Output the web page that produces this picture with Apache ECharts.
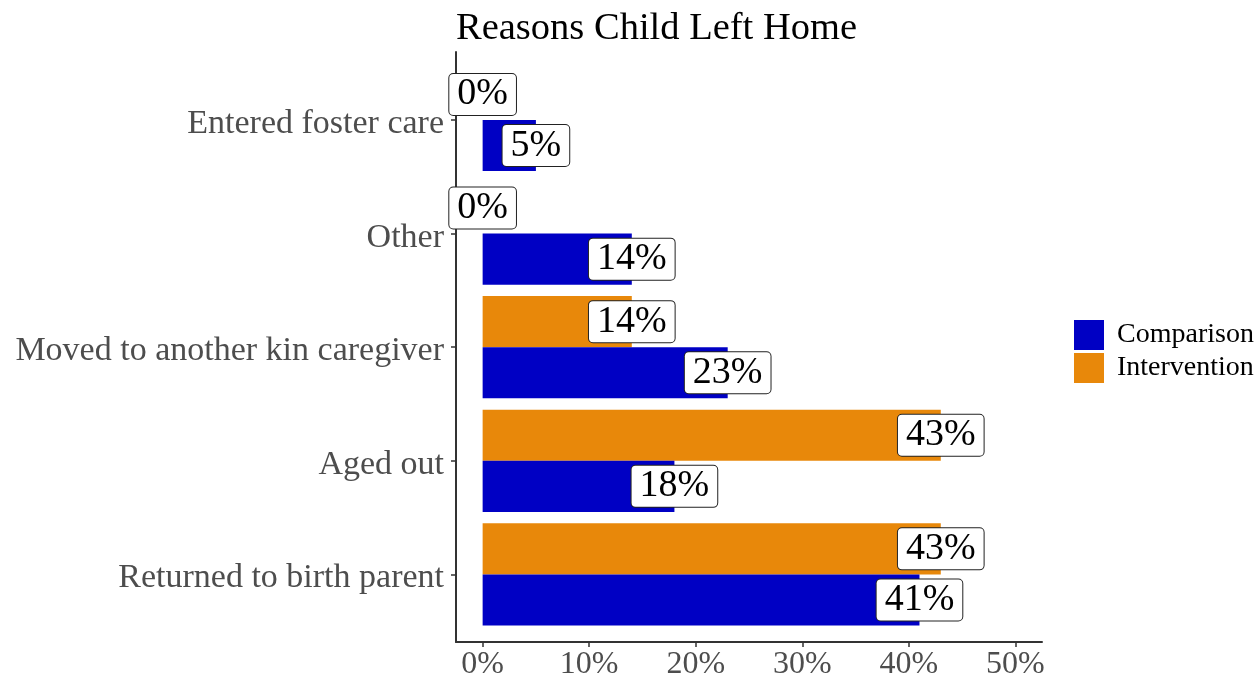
<!DOCTYPE html>
<html>
<head>
<meta charset="utf-8">
<script src="https://cdn.jsdelivr.net/npm/echarts@6/dist/echarts.min.js"></script>
<style>html,body{margin:0;padding:0;background:#fff}#c{width:1260px;height:681px}</style>
</head>
<body>
<div id="c"></div>
<script>
// categories listed bottom-to-top (as drawn on the y axis)
const categories = ['Returned to birth parent', 'Aged out', 'Moved to another kin caregiver', 'Other', 'Entered foster care'];
const intervention = [43, 43, 14, 0, 0];
const comparison = [41, 18, 23, 14, 5];
const xTicks = [0, 10, 20, 30, 40, 50];

const FONT = 'Liberation Serif';
const chart = echarts.init(document.getElementById('c'));

const labelStyle = {
  show: true,
  position: 'right',
  distance: 0,
  align: 'center',
  verticalAlign: 'middle',
  formatter: p => p.value + '%',
  fontFamily: FONT,
  fontSize: 38,
  color: '#000',
  backgroundColor: '#fff',
  borderColor: '#222',
  borderWidth: 1,
  borderRadius: 4,
  padding: [3, 8, 2, 8],
  lineHeight: 36
};

chart.setOption({
  animation: false,
  title: {
    text: 'Reasons Child Left Home',
    left: 451,
    top: 4,
    textStyle: { fontFamily: FONT, fontSize: 38.5, fontWeight: 'normal', color: '#000' }
  },
  legend: {
    orient: 'vertical',
    left: 1069,
    top: 315,
    icon: 'rect',
    itemWidth: 30,
    itemHeight: 30,
    itemGap: 3,
    data: ['Comparison', 'Intervention'],
    textStyle: { fontFamily: FONT, fontSize: 28, color: '#000', padding: [0, 0, 0, 8] }
  },
  grid: [
    { left: 456, right: 218, top: 63.2, height: 568, containLabel: false },
    { left: 456, right: 218, top: 52, height: 590, containLabel: false }
  ],
  xAxis: [
    { gridIndex: 0, type: 'value', min: -2.5, max: 52.5, show: false },
    {
      gridIndex: 1, type: 'value', min: -2.5, max: 52.5,
      axisLine: { show: true, onZero: false, lineStyle: { color: '#333', width: 2 } },
      axisTick: { show: true, length: 5, lineStyle: { color: '#333', width: 1.5 }, customValues: xTicks },
      axisLabel: { customValues: xTicks, formatter: v => v + '%', fontFamily: FONT, fontSize: 32, color: '#4D4D4D', margin: 7 },
      splitLine: { show: false }
    }
  ],
  yAxis: [
    {
      gridIndex: 0, type: 'category', data: categories,
      axisLine: { show: false, onZero: false },
      axisTick: { show: true, alignWithLabel: true, length: 5, lineStyle: { color: '#333', width: 1.5 } },
      axisLabel: {
        margin: 12,
        formatter: v => '{a|' + v + '}',
        rich: { a: { fontFamily: FONT, fontSize: 34, color: '#4D4D4D', padding: [8, 0, 0, 0] } }
      },
      splitLine: { show: false }
    },
    {
      gridIndex: 1, type: 'value', min: 0, max: 1,
      axisLine: { show: true, onZero: false, lineStyle: { color: '#333', width: 2 } },
      axisTick: { show: false }, axisLabel: { show: false }, splitLine: { show: false }
    }
  ],
  series: [
    {
      name: 'Intervention', type: 'bar', xAxisIndex: 0, yAxisIndex: 0,
      data: intervention, barGap: '0%', barCategoryGap: '10%',
      itemStyle: { color: '#E8880A' }, label: labelStyle
    },
    {
      name: 'Comparison', type: 'bar', xAxisIndex: 0, yAxisIndex: 0,
      data: comparison, barGap: '0%', barCategoryGap: '10%',
      itemStyle: { color: '#0000C4' }, label: labelStyle
    }
  ]
});
</script>
</body>
</html>
